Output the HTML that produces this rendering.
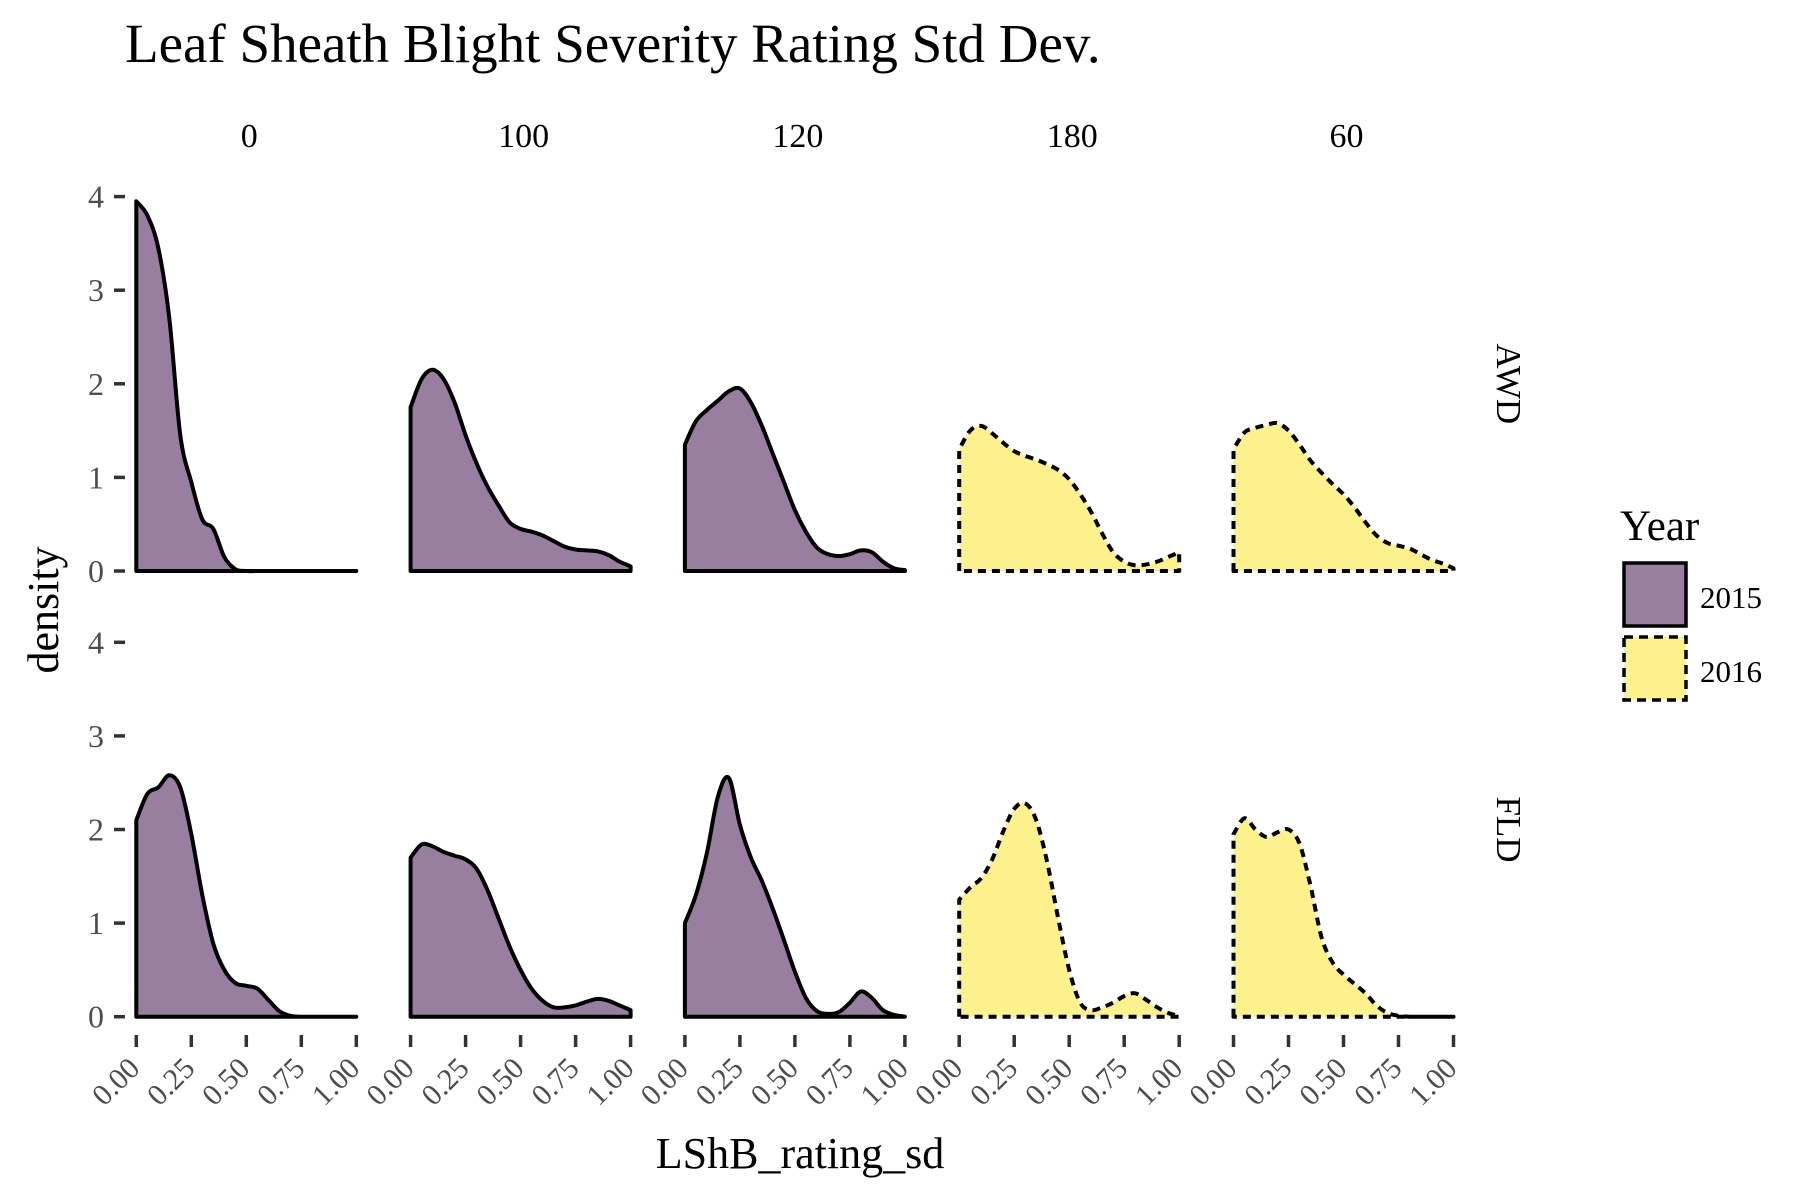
<!DOCTYPE html>
<html><head><meta charset="utf-8"><style>
html,body{margin:0;padding:0;background:#fff}
svg{display:block;font-family:"Liberation Serif",serif}
</style></head><body>
<svg id="chart" width="1800" height="1200" viewBox="0 0 1800 1200">
<text x="125" y="62" font-size="55" fill="#000">Leaf Sheath Blight Severity Rating Std Dev.</text>
<text transform="translate(58,610) rotate(-90)" text-anchor="middle" font-size="44">density</text>
<text x="800" y="1168" text-anchor="middle" font-size="44">LShB_rating_sd</text>
<g id="panels"></g>
<g>
<text x="1620" y="540" font-size="43">Year</text>
<rect x="1624" y="563" width="62" height="63" fill="#987fa0" stroke="#000" stroke-width="3.5"/>
<text x="1700" y="608" font-size="31">2015</text>
<rect x="1624" y="637" width="62" height="63" fill="#fdf18e" stroke="#000" stroke-width="3.5" stroke-dasharray="9,6"/>
<text x="1700" y="682" font-size="31">2016</text>
</g>
</svg>
<script>
const facetCols = ["0","100","120","180","60"];
const facetRows = ["AWD","FLD"];
const yearByCol = ["2015","2015","2015","2016","2016"];
const xGrid = [0,.05,.1,.15,.2,.25,.3,.35,.4,.45,.5,.55,.6,.65,.7,.75,.8,.85,.9,.95,1.0];
const xTicks = [0,0.25,0.5,0.75,1.0];
const xTickLabels = ["0.00","0.25","0.50","0.75","1.00"];
const yTicks = [0,1,2,3,4];
const awd0 = [3.95,3.8,3.45,2.7,1.45,0.95,0.55,0.45,0.15,0.02,0,0,0,0,0,0,0,0,0,0,0];
const awd100 = [1.75,2.05,2.15,2.05,1.8,1.45,1.15,0.9,0.7,0.52,0.45,0.42,0.38,0.32,0.26,0.23,0.22,0.21,0.17,0.1,0.05];
const awd120 = [1.35,1.6,1.72,1.82,1.92,1.95,1.8,1.55,1.25,0.95,0.65,0.42,0.25,0.18,0.16,0.18,0.22,0.2,0.1,0.03,0.01];
const awd180 = [1.3,1.5,1.55,1.47,1.37,1.28,1.23,1.19,1.14,1.08,0.98,0.82,0.63,0.4,0.2,0.1,0.06,0.07,0.1,0.15,0.2];
const awd60 = [1.3,1.48,1.53,1.56,1.58,1.5,1.35,1.18,1.05,0.93,0.82,0.68,0.52,0.38,0.3,0.27,0.24,0.18,0.12,0.08,0.03];
const fld0 = [2.1,2.38,2.45,2.58,2.45,1.95,1.3,0.78,0.5,0.36,0.33,0.3,0.18,0.06,0.01,0,0,0,0,0,0];
const fld100 = [1.7,1.84,1.82,1.76,1.72,1.68,1.58,1.35,1.05,0.75,0.5,0.3,0.17,0.1,0.1,0.12,0.16,0.19,0.17,0.12,0.07];
const fld120 = [1.0,1.3,1.75,2.35,2.55,2.05,1.7,1.45,1.15,0.82,0.48,0.2,0.06,0.03,0.05,0.15,0.27,0.2,0.07,0.02,0];
const fld180 = [1.25,1.38,1.48,1.68,1.98,2.22,2.28,2.1,1.65,1.05,0.5,0.15,0.07,0.1,0.15,0.22,0.25,0.18,0.1,0.04,0.01];
const fld60 = [1.95,2.12,2.0,1.92,1.97,2.0,1.85,1.4,0.85,0.58,0.45,0.35,0.25,0.12,0.04,0.01,0,0,0,0,0];
const densities = [[awd0,awd100,awd120,awd180,awd60],[fld0,fld100,fld120,fld180,fld60]];

const NS="http://www.w3.org/2000/svg";
const root=document.getElementById('panels');
const panelX0=136.3, panelStep=274.3, xUnit=220;
const rowY0=[571,1016.7], yUnit=93.6;
const fills={"2015":"#987fa0","2016":"#fdf18e"};
function mk(tag,attrs,parent){const e=document.createElementNS(NS,tag);for(const k in attrs)e.setAttribute(k,attrs[k]);parent.appendChild(e);return e;}
function xs(c,v){return panelX0+c*panelStep+v*xUnit;}
function ys(r,v){return rowY0[r]-v*yUnit;}
function smooth(pts){
  let d="";
  for(let i=0;i<pts.length-1;i++){
    const p0=pts[Math.max(0,i-1)],p1=pts[i],p2=pts[i+1],p3=pts[Math.min(pts.length-1,i+2)];
    const c1=[p1[0]+(p2[0]-p0[0])/6,p1[1]+(p2[1]-p0[1])/6];
    const c2=[p2[0]-(p3[0]-p1[0])/6,p2[1]-(p3[1]-p1[1])/6];
    d+=` C${c1[0]},${c1[1]} ${c2[0]},${c2[1]} ${p2[0]},${p2[1]}`;
  }
  return d;
}
facetCols.forEach((lab,c)=>{
  const t=mk('text',{x:xs(c,0.5)+3,y:147,'text-anchor':'middle','font-size':34},root);
  
  
  t.textContent=lab;
});
facetRows.forEach((lab,r)=>{
  const cy=(ys(r,0)+ys(r,4))/2;
  const t=mk('text',{transform:`translate(1497,${cy}) rotate(90)`,'text-anchor':'middle','font-size':35},root);
  
  
  t.textContent=lab;
  yTicks.forEach(v=>{
    const tk=mk('line',{x1:114,x2:125,y1:ys(r,v),y2:ys(r,v),stroke:'#333','stroke-width':3.5},root);
    
    
    const tl=mk('text',{x:104,y:ys(r,v)+11,'text-anchor':'end','font-size':32,fill:'#4d4d4d'},root);
    
    
    tl.textContent=v;
  });
  facetCols.forEach((cl,c)=>{
    const vals=densities[r][c];
    const pts=xGrid.map((x,i)=>[xs(c,x),ys(r,vals[i])]);
    const base=ys(r,0);
    let d=`M${pts[0][0]},${base} L${pts[0][0]},${pts[0][1]}`+smooth(pts)+` L${pts[pts.length-1][0]},${base} Z`;
    const yr=yearByCol[c];
    const p=mk('path',{d:d,fill:fills[yr],stroke:'#000','stroke-width':4,'stroke-linejoin':'round'},root);
    if(yr==="2016")p.setAttribute('stroke-dasharray','8,6');
    
    
  });
});
facetCols.forEach((lab,c)=>{
  xTicks.forEach((v,i)=>{
    const x=xs(c,v);
    const tk=mk('line',{x1:x,x2:x,y1:1035,y2:1047,stroke:'#333','stroke-width':3.5},root);
    
    
    const tl=mk('text',{transform:`translate(${x+5},${1070}) rotate(-45)`,'text-anchor':'end','font-size':30,fill:'#4d4d4d'},root);
    
    
    tl.textContent=xTickLabels[i];
  });
});
</script>
</body></html>
